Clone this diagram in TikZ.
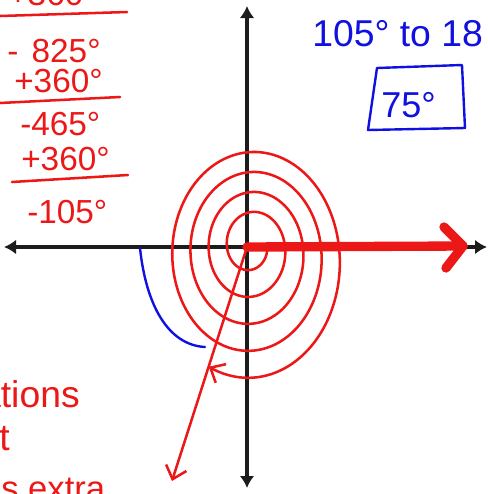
\documentclass[tikz,border=0pt]{standalone}
\usepackage{fontspec}
\setmainfont{Liberation Sans}
\usetikzlibrary{arrows.meta}
\definecolor{penred}{RGB}{236,24,24}
\definecolor{penblue}{RGB}{16,16,224}
\definecolor{axisgray}{RGB}{28,28,28}
\tikzset{
  axisline/.style={line width=3pt, draw=axisgray,
                   {Latex[length=9pt,width=11pt]}-{Latex[length=9pt,width=11pt]}},
  redpen/.style={draw=penred, line width=1.9pt, line cap=round, line join=round},
  redbold/.style={draw=penred, line width=7pt, line cap=round, line join=round},
  bluepen/.style={draw=penblue, line width=1.8pt, line cap=round, line join=round},
  barb/.style={-{Straight Barb[length=9pt,width=16pt,line width=1.9pt]}},
  redtxt/.style={text=penred, inner sep=0pt, font=\fontsize{25}{25}\selectfont},
  bluetxt/.style={text=penblue, inner sep=0pt, font=\fontsize{28}{28}\selectfont}
}

\begin{document}
\begin{tikzpicture}[x=0.75pt, y=-0.75pt]
  \useasboundingbox (0,0) rectangle (488,494);
  \clip (0,0) rectangle (488,494);
  % axes
  \coordinate (O) at (247,247);
  \coordinate (top) at (247,6);
  \coordinate (bot) at (247,488);
  \coordinate (lft) at (4,247);
  \coordinate (rgt) at (487,247);
  \draw[axisline] (bot) -- (top);
  \draw[axisline] (lft) -- (rgt);
  % rotation spiral, -825 degrees
  \draw[redpen] (O) -- (267,245);
  \draw[redpen, barb] plot[domain=0:1557, samples=360, smooth, variable=\t]
    ({251.5+(15.5+18.2*(\t/360))*cos(\t)}, {245+3.5*(\t/360)+(18+23.5*(\t/360))*sin(\t)});
  % initial side
  \coordinate (rayend) at (463,246);
  \coordinate (headA) at (444,227);
  \coordinate (headB) at (446,268);
  \draw[redbold] (O) -- (rayend);
  \draw[redbold] (headA) -- (rayend) -- (headB);
  % terminal side
  \coordinate (term) at (172,481);
  \draw[redpen, barb] (O) -- (term);
  % reference angle
  \coordinate (arcA) at (140,248);
  \coordinate (arcB) at (205,347);
  \draw[bluepen] (arcA) .. controls (146,305) and (168,345) .. (arcB);
  % working on the left
  \node[redtxt, anchor=base west] (s0) at (8,5) {+360°};
  \draw[redpen] (0,16) -- (127,12);
  \node[redtxt, anchor=base west] (s1) at (7,62) {-\hspace{0.4em}825°};
  \node[redtxt, anchor=base west] (s2) at (14,92) {+360°};
  \draw[redpen] (0,103) -- (120,97);
  \node[redtxt, anchor=base west] (s3) at (20,135) {-465°};
  \node[redtxt, anchor=base west] (s4) at (21,170) {+360°};
  \draw[redpen] (12,182) -- (128,175);
  \node[redtxt, anchor=base west] (s5) at (27,223) {-105°};
  % notes at the bottom left
  \node[redtxt, font=\fontsize{28}{28}\selectfont, anchor=base east] (w1) at (80,407) {ations};
  \node[redtxt, font=\fontsize{28}{28}\selectfont, anchor=base east] (w2) at (10,450) {t};
  \node[redtxt, font=\fontsize{26}{26}\selectfont, anchor=base west] (w3) at (1,500) {s extra};
  % reference angle result
  \node[bluetxt, anchor=base west] (ref) at (312,46) {105° to 18};
  \node[bluetxt, font=\fontsize{27}{27}\selectfont, anchor=base west] (res) at (381,117) {75°};
  \draw[bluepen] (377,68) -- (462,65) -- (465,128) -- (368,130) -- cycle;
\end{tikzpicture}
\end{document}
